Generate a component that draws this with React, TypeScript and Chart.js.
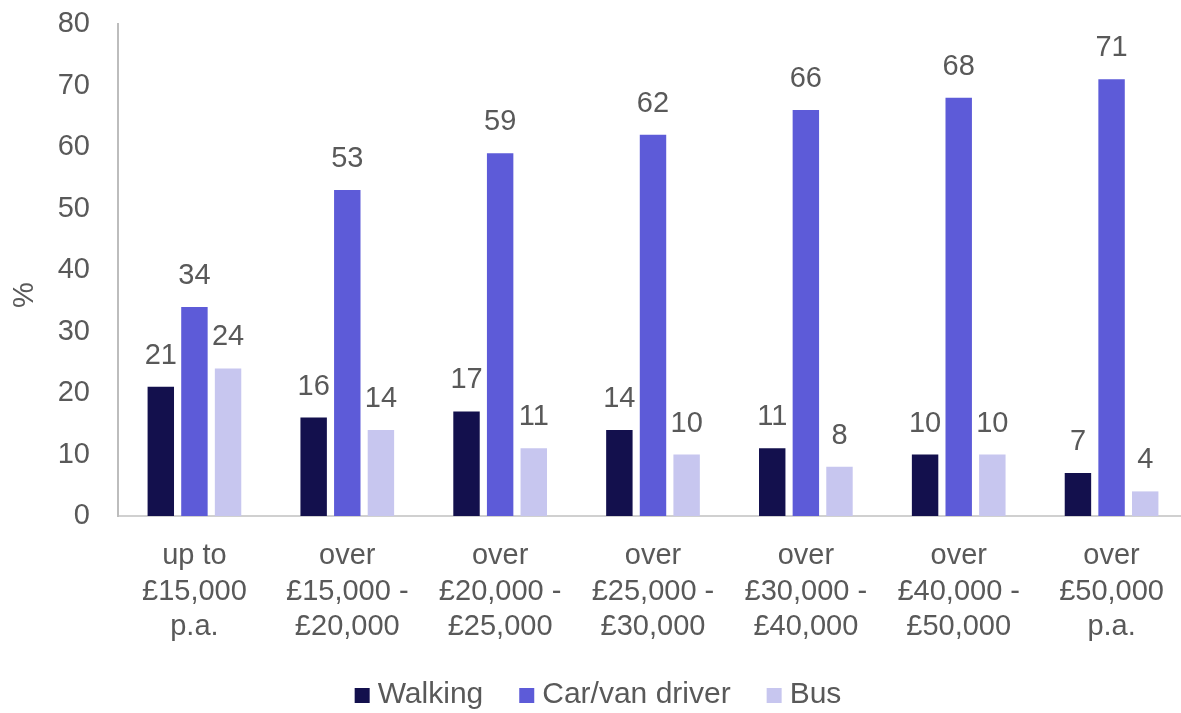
import React, { useEffect, useRef } from "react";
import { Chart, registerables } from "chart.js";

Chart.register(...registerables);

const categories: string[][] = [
  ["up to", "£15,000", "p.a."],
  ["over", "£15,000 -", "£20,000"],
  ["over", "£20,000 -", "£25,000"],
  ["over", "£25,000 -", "£30,000"],
  ["over", "£30,000 -", "£40,000"],
  ["over", "£40,000 -", "£50,000"],
  ["over", "£50,000", "p.a."],
];
const seriesNames = ["Walking", "Car/van driver", "Bus"];
const walking = [21, 16, 17, 14, 11, 10, 7];
const carVan = [34, 53, 59, 62, 66, 68, 71];
const bus = [24, 14, 11, 10, 8, 10, 4];
const colors = ["#13104d", "#5d5bd8", "#c7c6ef"];

const FONT = '"Liberation Sans", Arial, sans-serif';
const TEXT = "#595959";

const overlayPlugin = {
  id: "overlay",
  afterDatasetsDraw(chart: any) {
    const ctx = chart.ctx as CanvasRenderingContext2D;
    ctx.save();
    // data labels
    ctx.font = `29px ${FONT}`;
    ctx.fillStyle = TEXT;
    ctx.textAlign = "center";
    ctx.textBaseline = "alphabetic";
    chart.data.datasets.forEach((ds: any, i: number) => {
      const meta = chart.getDatasetMeta(i);
      meta.data.forEach((bar: any, j: number) => {
        ctx.fillText(String(ds.data[j]), bar.x, bar.y - 23);
      });
    });
    // y-axis title
    ctx.save();
    ctx.translate(25, 295);
    ctx.rotate(-Math.PI / 2);
    ctx.textBaseline = "middle";
    ctx.fillText("%", 0, 0);
    ctx.restore();
    // legend
    ctx.font = `30px ${FONT}`;
    const box = 15;
    const boxGap = 8;
    const itemGap = 36;
    const widths = chart.data.datasets.map((ds: any) => ctx.measureText(ds.label).width);
    const total =
      widths.reduce((a: number, b: number) => a + b, 0) +
      widths.length * (box + boxGap) +
      (widths.length - 1) * itemGap;
    let x = 598 - total / 2;
    const baseline = 703;
    ctx.textAlign = "left";
    chart.data.datasets.forEach((ds: any, i: number) => {
      ctx.fillStyle = ds.backgroundColor;
      ctx.fillRect(x, baseline - box, box, box);
      x += box + boxGap;
      ctx.fillStyle = TEXT;
      ctx.fillText(ds.label, x, baseline);
      x += widths[i] + itemGap;
    });
    ctx.restore();
  },
};

export default function App() {
  const ref = useRef<HTMLCanvasElement | null>(null);
  useEffect(() => {
    if (!ref.current) return;
    const chart = new Chart(ref.current, {
      type: "bar",
      data: {
        labels: categories,
        datasets: [
          { label: seriesNames[0], data: walking, backgroundColor: colors[0] },
          { label: seriesNames[1], data: carVan, backgroundColor: colors[1] },
          { label: seriesNames[2], data: bus, backgroundColor: colors[2] },
        ],
      },
      options: {
        animation: false,
        responsive: false,
        datasets: { bar: { categoryPercentage: 0.66, barPercentage: 0.786 } },
        layout: { padding: { top: 24, left: 0, right: 0, bottom: 0 } },
        plugins: { legend: { display: false }, tooltip: { enabled: false } },
        scales: {
          x: {
            grid: { display: false, drawTicks: false },
            border: { display: true, color: "#d0d0d0", width: 2 },
            ticks: {
              font: { family: FONT, size: 29, lineHeight: 1.23 },
              color: TEXT,
              padding: 22,
              maxRotation: 0,
              minRotation: 0,
              autoSkip: false,
            },
            afterFit: (s: any) => {
              s.height = 197;
              s.paddingLeft = 0;
              s.paddingRight = 0;
            },
          },
          y: {
            min: 0,
            max: 80,
            grid: { display: false, drawTicks: false },
            border: { display: true, color: "#bdbdbd", width: 2 },
            ticks: {
              stepSize: 10,
              font: { family: FONT, size: 29 },
              color: TEXT,
              padding: 28,
            },
            afterFit: (s: any) => {
              s.width = 118;
              s.paddingTop = 0;
              s.paddingBottom = 0;
            },
          },
        },
      },
      plugins: [overlayPlugin],
    });
    return () => chart.destroy();
  }, []);
  return (
    <div style={{ position: "fixed", left: 0, top: 0, width: 1188, height: 713, background: "#fff" }}>
      <canvas ref={ref} width={1188} height={713} style={{ display: "block" }} />
    </div>
  );
}
